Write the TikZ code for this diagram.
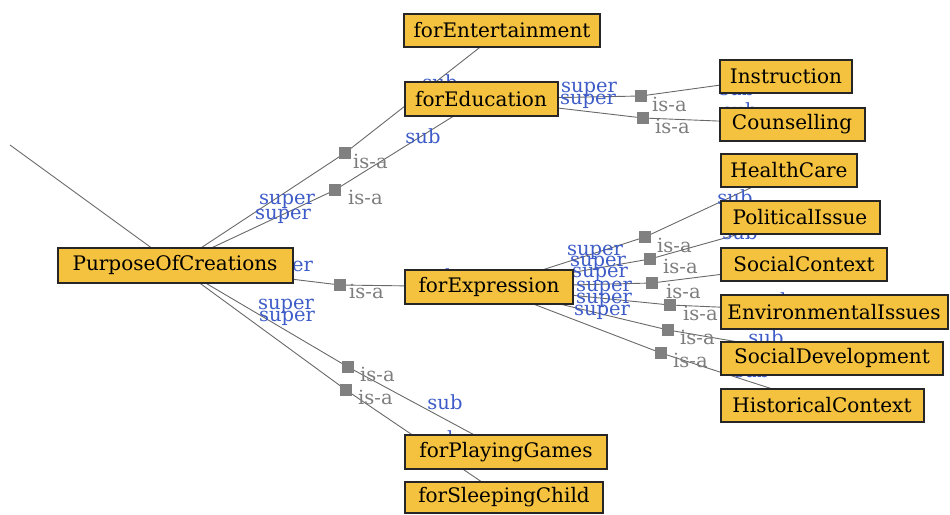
\documentclass[tikz,border=0pt]{standalone}
\usepackage{fontspec}
\setmainfont{DejaVu Serif}
\usetikzlibrary{backgrounds}
\definecolor{boxfill}{RGB}{244,194,62}
\definecolor{supblue}{RGB}{62,92,200}
\definecolor{isagray}{RGB}{125,125,125}
\definecolor{linegray}{RGB}{105,105,105}
\definecolor{sqgray}{RGB}{128,128,128}
\tikzset{
  cls/.style={draw=black!85, line width=2pt, fill=boxfill, inner sep=0pt,
    font=\fontsize{20}{20}\selectfont, text=black, minimum height=33pt},
  isasq/.style={fill=sqgray, minimum size=12pt, inner sep=0pt},
  edge/.style={draw=linegray, line width=0.9pt},
  suplab/.style={text=supblue, font=\fontsize{19.5}{19.5}\selectfont, inner sep=0pt},
  isalab/.style={text=isagray, font=\fontsize{19.5}{19.5}\selectfont, inner sep=0pt, anchor=west},
}
\begin{document}
\begin{tikzpicture}[x=1pt,y=-1pt]
\useasboundingbox (0,0) rectangle (950,514);
% class nodes
\node[cls, minimum width=196pt] (ent) at (502,30) {forEntertainment};
\node[cls, minimum width=153pt, minimum height=34pt] (edu) at (481,99) {forEducation};
\node[cls, minimum width=132pt] (ins) at (786,76) {Instruction};
\node[cls, minimum width=145pt] (cou) at (792,124) {Counselling};
\node[cls, minimum width=136pt] (hea) at (789,170) {HealthCare};
\node[cls, minimum width=159pt] (pol) at (800,217) {PoliticalIssue};
\node[cls, minimum width=166pt] (soc) at (804,264) {SocialContext};
\node[cls, minimum width=227pt, minimum height=34pt] (env) at (834,312) {EnvironmentalIssues};
\node[cls, minimum width=222pt] (sdev) at (832,358) {SocialDevelopment};
\node[cls, minimum width=203pt] (his) at (822,405) {HistoricalContext};
\node[cls, minimum width=235pt, minimum height=35pt] (poc) at (175,265) {PurposeOfCreations};
\node[cls, minimum width=168pt, minimum height=34pt] (exp) at (489,287) {forExpression};
\node[cls, minimum width=202pt, minimum height=34pt] (play) at (506,452) {forPlayingGames};
\node[cls, minimum width=198pt, minimum height=31pt] (sleep) at (504,497) {forSleepingChild};
% is-a squares
\node[isasq] (sA) at (345,153) {};
\node[isasq] (sB) at (335,190) {};
\node[isasq] (sC) at (340,285) {};
\node[isasq] (sD) at (348,367) {};
\node[isasq] (sE) at (346,390) {};
\node[isasq] (sF) at (641,96) {};
\node[isasq] (sG) at (643,118) {};
\node[isasq] (s1) at (645,237) {};
\node[isasq] (s2) at (650,259) {};
\node[isasq] (s3) at (652,283) {};
\node[isasq] (s4) at (670,305) {};
\node[isasq] (s5) at (668,330) {};
\node[isasq] (s6) at (661,353) {};
\coordinate (tl) at (10,145);
\begin{pgfonlayer}{background}
  \draw[edge] (tl) -- (poc.center);
  \draw[edge] (poc.center) -- (sA.center) -- (ent.center);
  \draw[edge] (poc.center) -- (sB.center) -- (edu.center);
  \draw[edge] (poc.center) -- (sC.center) -- (exp.center);
  \draw[edge] (poc.center) -- (sD.center) -- (play.center);
  \draw[edge] (poc.center) -- (sE.center) -- (sleep.center);
  \draw[edge] (edu.center) -- (sF.center) -- (ins.center);
  \draw[edge] (edu.center) -- (sG.center) -- (cou.center);
  \draw[edge] (exp.center) -- (s1.center) -- (hea.center);
  \draw[edge] (exp.center) -- (s2.center) -- (pol.center);
  \draw[edge] (exp.center) -- (s3.center) -- (soc.center);
  \draw[edge] (exp.center) -- (s4.center) -- (env.center);
  \draw[edge] (exp.center) -- (s5.center) -- (sdev.center);
  \draw[edge] (exp.center) -- (s6.center) -- (his.center);
  % super labels
  \node[suplab] (pA) at (287,201) {super};
  \node[suplab] (pB) at (283,216) {super};
  \node[suplab] (pC) at (285,268) {super};
  \node[suplab] (pD) at (286,306) {super};
  \node[suplab] (pE) at (287,318) {super};
  \node[suplab] (pF) at (589,89) {super};
  \node[suplab] (pG) at (588,101) {super};
  \node[suplab] (p1) at (595,252) {super};
  \node[suplab] (p2) at (598,263) {super};
  \node[suplab] (p3) at (600,274) {super};
  \node[suplab] (p4) at (604,288) {super};
  \node[suplab] (p5) at (604,300) {super};
  \node[suplab] (p6) at (602,312) {super};
  % sub labels
  \node[suplab] (bA) at (440,82) {sub};
  \node[suplab] (bB) at (423,136) {sub};
  \node[suplab] (bC) at (440,276) {sub};
  \node[suplab] (bD) at (445,402) {sub};
  \node[suplab] (bE) at (442,438) {sub};
  \node[suplab] (bF) at (737,88) {sub};
  \node[suplab] (bG) at (740,110) {sub};
  \node[suplab] (b1) at (735,197) {sub};
  \node[suplab] (b2) at (740,232) {sub};
  \node[suplab] (b4) at (775,300) {sub};
  \node[suplab] (b5) at (766,337) {sub};
  \node[suplab] (b6) at (752,370) {sub};
  % is-a labels
  \node[isalab] (iA) at (353,161) {is-a};
  \node[isalab] (iB) at (348,197) {is-a};
  \node[isalab] (iC) at (349,291) {is-a};
  \node[isalab] (iD) at (360,374) {is-a};
  \node[isalab] (iE) at (358,397) {is-a};
  \node[isalab] (iF) at (652,104) {is-a};
  \node[isalab] (iG) at (655,126) {is-a};
  \node[isalab] (i1) at (657,245) {is-a};
  \node[isalab] (i2) at (663,266) {is-a};
  \node[isalab] (i3) at (666,291) {is-a};
  \node[isalab] (i4) at (683,313) {is-a};
  \node[isalab] (i5) at (680,337) {is-a};
  \node[isalab] (i6) at (673,360) {is-a};
\end{pgfonlayer}
\end{tikzpicture}
\end{document}
